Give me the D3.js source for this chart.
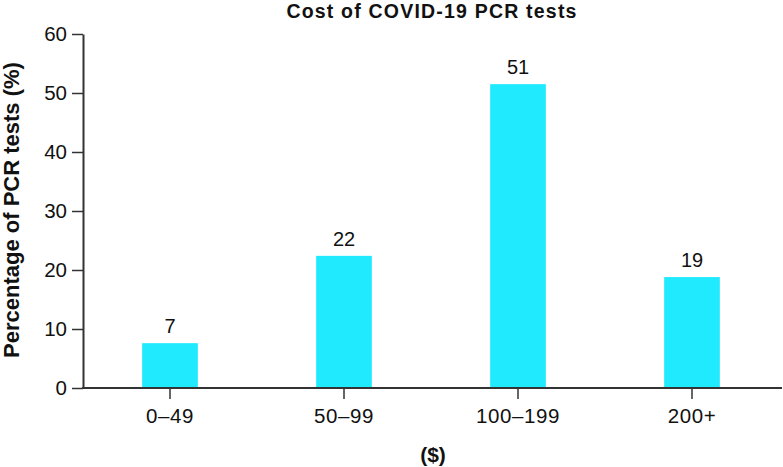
<!DOCTYPE html>
<html>
<head>
<meta charset="utf-8">
<script src="https://cdn.jsdelivr.net/npm/d3@7"></script>
<style>
  body { margin: 0; background: #fff; }
  svg { display: block; font-family: "Liberation Sans", Arial, sans-serif; }
</style>
</head>
<body>
<svg id="chart" width="783" height="467"></svg>
<script>
const categories = ["0–49", "50–99", "100–199", "200+"];
const values = [7.6, 22.4, 51.5, 18.8];
const valueLabels = ["7", "22", "51", "19"];
const yTicks = [0, 10, 20, 30, 40, 50, 60];
const titleText = "Cost of COVID-19 PCR tests";
const xTitle = "($)";
const yTitle = "Percentage of PCR tests (%)";

(function () {
const svg = d3.select("#chart");
const mLeft = 83, mRight = 779, mTop = 34, mBottom = 388;

const x = d3.scaleBand().domain(categories).range([mLeft, mRight])
  .paddingInner(0.68).paddingOuter(0.34);
const y = d3.scaleLinear().domain([0, 60]).range([mBottom, mTop]);

const axisColor = "#333";

// bars
svg.append("g").selectAll("rect").data(values).join("rect")
  .attr("x", (d, i) => x(categories[i]))
  .attr("width", x.bandwidth())
  .attr("y", d => y(d))
  .attr("height", d => y(0) - y(d))
  .attr("fill", "#20eafe");

// value labels
svg.append("g").selectAll("text").data(values).join("text")
  .attr("x", (d, i) => x(categories[i]) + x.bandwidth() / 2)
  .attr("y", d => y(d) - 10)
  .attr("text-anchor", "middle")
  .attr("font-size", 20)
  .attr("fill", "#111")
  .text((d, i) => valueLabels[i]);

// y axis
const yAxis = svg.append("g").attr("transform", `translate(${mLeft},0)`)
  .call(d3.axisLeft(y).tickValues(yTicks).tickSize(11).tickPadding(5).tickSizeOuter(0));
yAxis.select(".domain").attr("stroke", axisColor).attr("stroke-width", 2);
yAxis.selectAll(".tick line").attr("stroke", axisColor).attr("stroke-width", 1.5);
yAxis.selectAll(".tick text").attr("font-size", 20.5).attr("fill", "#111")
  .attr("font-family", "Liberation Sans, Arial, sans-serif");

// x axis
const xAxis = svg.append("g").attr("transform", `translate(0,${mBottom})`)
  .call(d3.axisBottom(x).tickSize(11).tickPadding(9).tickSizeOuter(0));
xAxis.select(".domain").remove();
xAxis.append("line").attr("x1", mLeft - 1).attr("x2", 782).attr("y1", 0).attr("y2", 0)
  .attr("stroke", axisColor).attr("stroke-width", 2);
xAxis.selectAll(".tick line").attr("stroke", axisColor).attr("stroke-width", 1.5);
xAxis.selectAll(".tick text").attr("font-size", 20.5).attr("fill", "#111")
  .attr("letter-spacing", "0.6px")
  .attr("font-family", "Liberation Sans, Arial, sans-serif");

// title
svg.append("text").attr("x", 432).attr("y", 18)
  .attr("text-anchor", "middle").attr("font-weight", "bold").attr("font-size", 19.5)
  .attr("letter-spacing", "1.2px")
  .attr("fill", "#111").text(titleText);

// x title
svg.append("text").attr("x", 433).attr("y", 462)
  .attr("text-anchor", "middle").attr("font-weight", "bold").attr("font-size", 21)
  .attr("fill", "#111").text(xTitle);

// y title
svg.append("text").attr("transform", "translate(19,210) rotate(-90)")
  .attr("text-anchor", "middle").attr("font-weight", "bold").attr("font-size", 22)
  .attr("fill", "#111").text(yTitle);
})();
</script>
</body>
</html>
